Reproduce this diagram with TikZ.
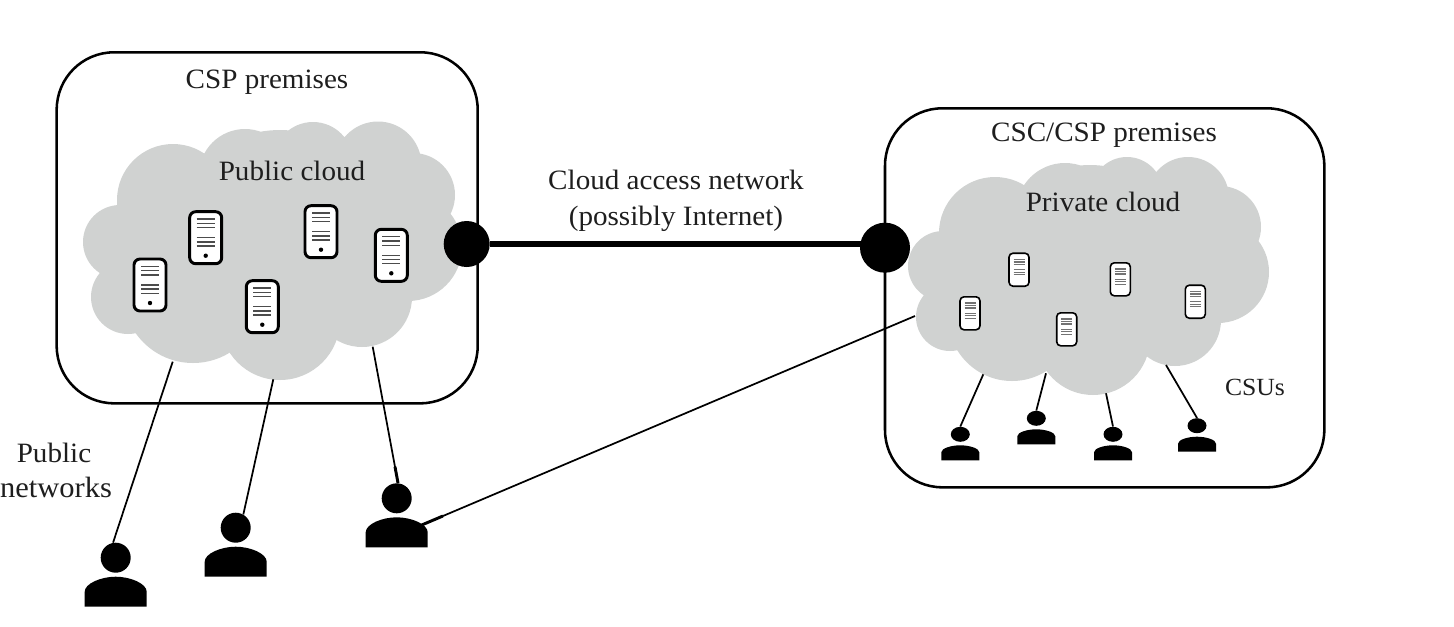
\documentclass[tikz,border=0pt]{standalone}
\usepackage{fontspec}
\setmainfont[FakeStretch=1.04]{Liberation Serif}
\usetikzlibrary{shapes.geometric}
\definecolor{cloudgray}{RGB}{208,210,209}
\definecolor{inkc}{RGB}{30,30,30}
\newcommand{\lobes}[1]{\fill[cloudgray] \foreach \cx/\cy/\cr in {#1} {(\cx,\cy) circle[radius=\cr]};}
\tikzset{
  premises/.style={draw=black,line width=1.9pt,rounded corners=43pt},
  label/.style={text=inkc,font=\fontsize{21}{24}\selectfont,inner sep=0pt,anchor=base},
  junction/.style={circle,fill=black,inner sep=0pt,minimum size=#1},
  link/.style={line width=1.3pt,black},
  stub/.style={line width=2.2pt,black},
  headbig/.style={circle,fill=black,inner sep=0pt,minimum size=22.5pt},
  headsmall/.style={ellipse,fill=black,inner sep=0pt,minimum width=14.25pt,minimum height=11.25pt},
  bigperson/.pic={
    \node[headbig] (head) at (0,0) {};
    \fill[black] (-31,49) -- (-31,34) .. controls (-31,26) and (-15,19) .. (0,19) .. controls (15,19) and (31,26) .. (31,34) -- (31,49) -- cycle;
  },
  smallperson/.pic={
    \node[headsmall] (head) at (0,0) {};
    \fill[black] (-19,26) -- (-19,18) .. controls (-19,14) and (-9,11) .. (0,11) .. controls (9,11) and (19,14) .. (19,18) -- (19,26) -- cycle;
  },
  bigserver/.pic={
    \draw[black,fill=white,line width=2.2pt,rounded corners=4.5pt] (-16,-26) rectangle (16,26);
    \foreach \ly in {-18.7,-14.3,-10,0,4.2,8.4} \draw[line width=1.1pt,black!70] (-9,\ly) -- (9,\ly);
    \fill[black] (0,18) circle[radius=2.2];
  },
  smallserver/.pic={
    \draw[black,fill=white,line width=1.2pt,rounded corners=3pt] (-10,-16.5) rectangle (10,16.5);
    \foreach \ly in {-10.2,-7.8,-5.4,0,2.5,5} \draw[line width=1pt,black!55] (-5.5,\ly) -- (5.5,\ly);
  },
}
\begin{document}
\begin{tikzpicture}[x=0.75pt,y=-0.75pt]
\useasboundingbox (0,0) rectangle (1454,626);
% premises
\draw[premises] (56.7,52.3) rectangle (477.7,403.3);
\draw[premises] (885,108.3) rectangle (1324.3,487.3);
% clouds
\lobes{120/242/37,128/297/37,173/200/56,245/175/46,313/162/40,378/165/43.5,413/195/42,408/247/54,362/297/50,280/320/60,193/293/70,280/240/110,160/265/50}
\lobes{943/266/35,950/317/34,995/233/56,1065/212/49,1127/193/36,1188/198/41,1220/227/41,1218/272/51,1175/320/46,1093/338/57,1012/317/64,1090/265/100,975/285/40}
% servers
\foreach \sx/\sy in {205.7/237.7,150/285,262.3/306.7,321/231.7,391.3/255.3} \pic at (\sx,\sy) {bigserver};
\foreach \sx/\sy in {1019/269.7,970/313.3,1066.7/329.3,1120.3/279.3,1195.3/301.7} \pic at (\sx,\sy) {smallserver};
% persons
\pic (pa) at (115.7,557.7) {bigperson};
\pic (pb) at (235.7,527.7) {bigperson};
\pic (pc) at (396.7,498.3) {bigperson};
\pic (qa) at (960.3,434.3) {smallperson};
\pic (qb) at (1036.3,418.3) {smallperson};
\pic (qc) at (1113,434.3) {smallperson};
\pic (qd) at (1197,425.7) {smallperson};
% connector ends
\coordinate (ca) at (172.7,361.7);
\coordinate (cb) at (273.3,379.3);
\coordinate (cc) at (372.7,346.7);
\coordinate (cd) at (915,316);
\coordinate (pcbody) at (421.7,525);
\coordinate (da) at (983.3,374.3);
\coordinate (db) at (1046,373.3);
\coordinate (dc) at (1106,393.3);
\coordinate (dd) at (1166,365);
% connectors
\draw[link] (ca) -- (pahead.100);
\draw[link] (cb) -- (pbhead.60);
\draw[link] (cc) -- (pchead.85) coordinate[pos=.88] (stc);
\draw[stub] (stc) -- (pchead.85);
\draw[link] (cd) -- (pcbody) coordinate[pos=.957] (std);
\draw[stub] (std) -- (pcbody);
\draw[link] (da) -- (qahead.north);
\draw[link] (db) -- (qbhead.north);
\draw[link] (dc) -- (qchead.north);
\draw[link] (dd) -- (qdhead.north);
% junctions
\node[junction=34.5pt] (ja) at (466.7,244) {};
\node[junction=37.5pt] (jb) at (885,247.7) {};
\draw[line width=3.8pt,black] (ja) -- (jb |- ja);
% labels
\node[label] (t1) at (267,88) {CSP premises};
\node[label] (t2) at (292,180) {Public cloud};
\node[label] (t3) at (676,189) {Cloud access network};
\node[label] (t4) at (676,225) {(possibly Internet)};
\node[label] (t5) at (1104,141.7) {CSC/CSP premises};
\node[label] (t6) at (1103,211.7) {Private cloud};
\node[label,font=\fontsize{18.5}{22}\selectfont] (t7) at (1255,395) {CSUs};
\node[label] (t8) at (54,462.7) {Public};
\node[label,font=\fontsize{22}{24}\selectfont] (t9) at (56,497.3) {networks};
\end{tikzpicture}
\end{document}
